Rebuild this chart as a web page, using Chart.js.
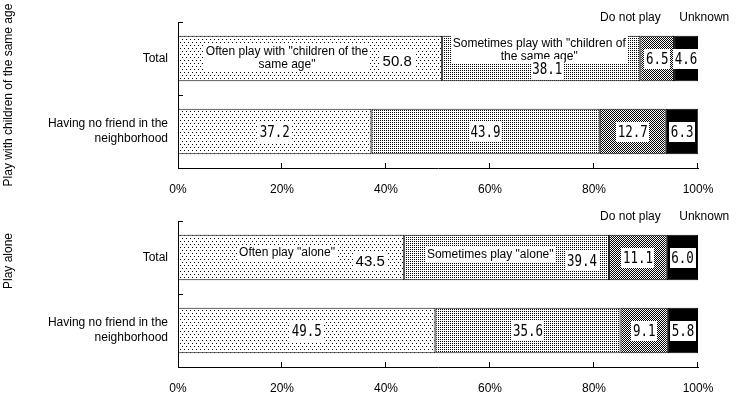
<!DOCTYPE html>
<html>
<head>
<meta charset="utf-8">
<script src="https://cdn.jsdelivr.net/npm/chart.js@4"></script>
<style>
  html, body { margin: 0; padding: 0; background: #fff; }
  #wrap { position: relative; width: 737px; height: 398px; }
  .panel { position: absolute; left: 0; width: 737px; height: 199px; }
</style>
</head>
<body>
<div id="wrap">
  <div class="panel" style="top:0"><canvas id="chartTop" width="737" height="199"></canvas></div>
  <div class="panel" style="top:199px"><canvas id="chartBottom" width="737" height="199"></canvas></div>
</div>
<script>
// ===== Datos =====
const categories = ["Total", ["Having no friend in the", "neighborhood"]];
const xTicks = [0, 20, 40, 60, 80, 100];
const headerNames = ["Do not play", "Unknown"];
const panelTitles = ["Play with children of the same age", "Play alone"];

// Play with children of the same age
const ageOften = [50.8, 37.2];
const ageSometimes = [38.1, 43.9];
const ageNever = [6.5, 12.7];
const ageUnknown = [4.6, 6.3];
const ageNames = [['Often play with "children of the', 'same age"'], ['Sometimes play with "children of', 'the same age"']];

// Play alone
const aloneOften = [43.5, 49.5];
const aloneSometimes = [39.4, 35.6];
const aloneNever = [11.1, 9.1];
const aloneUnknown = [6.0, 5.8];
const aloneNames = [['Often play "alone"'], ['Sometimes play "alone"']];

const SANS = "'Liberation Sans', Arial, sans-serif";
const MONO = "'DejaVu Sans Mono', monospace";

// ===== Helpers =====
function makePattern(ctx, w, h, dots) {
  const c = document.createElement("canvas");
  c.width = w; c.height = h;
  const g = c.getContext("2d");
  g.fillStyle = "#fff";
  g.fillRect(0, 0, w, h);
  g.fillStyle = "#000";
  dots.forEach(([x, y]) => g.fillRect(x, y, 1, 1));
  return ctx.createPattern(c, "repeat");
}

function patternsFor(ctx) {
  return [
    makePattern(ctx, 4, 6, [[0, 0], [2, 3]]),
    makePattern(ctx, 2, 2, [[0, 0]]),
    makePattern(ctx, 2, 2, [[0, 0], [1, 1]]),
    "#000",
  ];
}

function whiteBox(ctx, cx, cy, w, h) {
  ctx.fillStyle = "#fff";
  ctx.fillRect(Math.round(cx - w / 2), Math.round(cy - h / 2), Math.round(w), Math.round(h));
}

function noPadding(s) {
  s.paddingTop = 0;
  s.paddingBottom = 0;
  s.paddingLeft = 0;
  s.paddingRight = 0;
}

// marcas del eje (hacia adentro)
const axisMarks = {
  id: "axisMarks",
  afterDraw(chart) {
    const { ctx, chartArea: a, scales: { x, y } } = chart;
    ctx.save();
    ctx.strokeStyle = "#000";
    ctx.lineWidth = 1;
    ctx.beginPath();
    const n = y.ticks.length;
    for (let i = 0; i <= n; i++) {
      let py;
      if (i === 0) py = a.top;
      else if (i === n) py = a.bottom;
      else py = (y.getPixelForTick(i - 1) + y.getPixelForTick(i)) / 2;
      py = Math.round(py) + 0.5;
      ctx.moveTo(a.left, py);
      ctx.lineTo(a.left + 5, py);
    }
    xTicks.forEach((v) => {
      if (v === 0) return;
      const px = Math.round(x.getPixelForValue(v)) - 0.5;
      ctx.moveTo(px, a.bottom);
      ctx.lineTo(px, a.bottom - 5);
    });
    ctx.stroke();
    ctx.restore();
  },
};

// etiquetas de segmentos, encabezados y titulo rotado
function makeLabels(names, layout, title, titleY) {
  return {
    id: "segLabels",
    afterDatasetsDraw(chart) {
      const { ctx, scales: { x } } = chart;
      ctx.save();
      ctx.textBaseline = "middle";
      ctx.textAlign = "center";

      chart.data.datasets.forEach((ds, i) => {
        const meta = chart.getDatasetMeta(i);
        meta.data.forEach((el, j) => {
          const left = Math.min(el.x, el.base);
          const right = Math.max(el.x, el.base);
          const cy = el.y;
          const txt = Number(ds.data[j]).toFixed(1);
          let nx = (left + right) / 2;
          let ny = cy;
          let useSans = false;

          if (j === 0 && i < 2) {
            const L = layout[i];
            const lines = names[i];
            const mx = L.nameFromLeft != null ? left + L.nameFromLeft : (left + right) / 2 + L.nameDx;
            const my = cy + L.nameDy;
            ctx.font = "12px " + SANS;
            const w = Math.max(...lines.map((s) => ctx.measureText(s).width));
            const lh = 13;
            whiteBox(ctx, mx, my, w + 4, lines.length * lh + 3);
            ctx.fillStyle = "#000";
            lines.forEach((s, k) => {
              ctx.fillText(s, mx, my + (k - (lines.length - 1) / 2) * lh + 0.5);
            });
            nx = L.numFromRight != null ? right - L.numFromRight : (left + right) / 2 + L.numDx;
            ny = cy + L.numDy;
            useSans = !!L.sans;
          }

          if (useSans) {
            ctx.font = "15px " + SANS;
            const w = ctx.measureText(txt).width;
            whiteBox(ctx, nx, ny, w + 6, 20);
            ctx.fillStyle = "#000";
            ctx.fillText(txt, nx, ny + 1);
          } else {
            ctx.font = "16px " + MONO;
            const sx = 0.78;
            const w = ctx.measureText(txt).width * sx;
            whiteBox(ctx, nx, ny, w + 3, 20);
            ctx.fillStyle = "#000";
            ctx.save();
            ctx.translate(nx, ny + 1);
            ctx.scale(sx, 1);
            ctx.fillText(txt, 0, 0);
            ctx.restore();
          }
        });
      });

      // encabezados sobre la barra
      ctx.font = "12px " + SANS;
      ctx.fillStyle = "#000";
      ctx.fillText(headerNames[0], x.getPixelForValue(87.0), 18);
      ctx.fillText(headerNames[1], x.getPixelForValue(101.2), 18);

      // titulo rotado
      ctx.save();
      ctx.translate(9, titleY);
      ctx.rotate(-Math.PI / 2);
      ctx.fillText(title, 0, 0);
      ctx.restore();

      ctx.restore();
    },
  };
}

function buildChart(canvasId, series, names, layout, title, titleY) {
  const canvas = document.getElementById(canvasId);
  const ctx = canvas.getContext("2d");
  const pats = patternsFor(ctx);

  return new Chart(ctx, {
    type: "bar",
    data: {
      labels: categories,
      datasets: series.map((vals, i) => ({
        data: vals,
        backgroundColor: pats[i],
        borderColor: "#000",
        borderWidth: 1,
        borderSkipped: false,
        categoryPercentage: 1,
        barPercentage: 0.62,
      })),
    },
    options: {
      indexAxis: "y",
      responsive: false,
      animation: false,
      events: [],
      layout: { padding: { top: 22, right: 39, left: 0, bottom: 0 } },
      plugins: { legend: { display: false }, tooltip: { enabled: false } },
      scales: {
        x: {
          stacked: true,
          min: 0,
          max: 100,
          grid: { display: false, drawTicks: false },
          border: { display: true, color: "#000", width: 1 },
          ticks: {
            stepSize: 20,
            padding: 14,
            color: "#000",
            font: { family: SANS, size: 12 },
            callback: (v) => v + "%",
          },
          afterFit(s) { s.height = 31; noPadding(s); },
        },
        y: {
          stacked: true,
          grid: { display: false, drawTicks: false },
          border: { display: true, color: "#000", width: 1 },
          ticks: {
            padding: 10,
            color: "#000",
            font: { family: SANS, size: 12, lineHeight: 1.25 },
          },
          afterFit(s) { s.width = 178; noPadding(s); },
        },
      },
    },
    plugins: [axisMarks, makeLabels(names, layout, title, titleY)],
  });
}

buildChart(
  "chartTop",
  [ageOften, ageSometimes, ageNever, ageUnknown],
  ageNames,
  [
    { nameFromLeft: 109, nameDy: -1, numFromRight: 45, numDy: 2, sans: true },
    { nameDx: -2, nameDy: -9, numDx: 6, numDy: 10 },
  ],
  panelTitles[0],
  95
);

buildChart(
  "chartBottom",
  [aloneOften, aloneSometimes, aloneNever, aloneUnknown],
  aloneNames,
  [
    { nameFromLeft: 109, nameDy: -5, numFromRight: 34, numDy: 3, sans: true },
    { nameFromLeft: 86, nameDy: -3, numFromRight: 27, numDy: 3 },
  ],
  panelTitles[1],
  62
);
</script>
</body>
</html>
